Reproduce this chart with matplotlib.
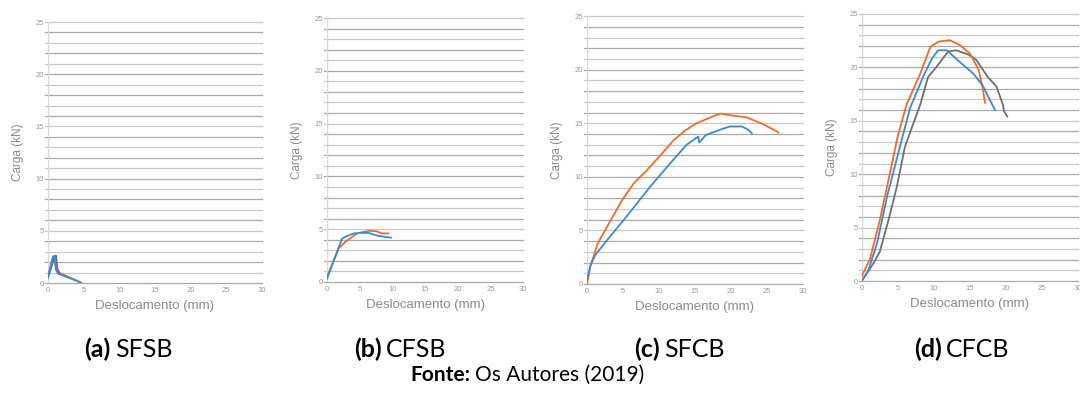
import matplotlib.pyplot as plt

# displacement (mm) / load (kN)
a_blue_x = [0, 0.35, 0.7, 0.9, 1.1, 1.4, 2.5, 3.5, 4.7]
a_blue_y = [0.5, 1.6, 2.55, 2.5, 1.3, 0.9, 0.6, 0.35, 0.0]
a_orange_x = [0, 0.5, 0.9, 1.1, 1.2, 1.5, 2.5, 3.5, 4.5]
a_orange_y = [0.6, 1.8, 2.6, 2.6, 1.5, 1.0, 0.7, 0.4, 0.1]
a_gray_x = [0, 0.55, 0.95, 1.15, 1.3, 1.6]
a_gray_y = [0.5, 1.7, 2.6, 2.6, 1.4, 1.0]

b_blue_x = [0, 1.2, 2.3, 3.05, 4.1, 5.3, 6.4, 7.6, 8.9, 9.8]
b_blue_y = [0.3, 2.3, 4.1, 4.35, 4.6, 4.65, 4.65, 4.4, 4.27, 4.2]
b_orange_x = [0, 1.8, 2.8, 3.7, 4.6, 5.6, 6.6, 7.6, 8.4, 9.4]
b_orange_y = [0.5, 3.2, 3.8, 4.2, 4.6, 4.75, 4.85, 4.8, 4.6, 4.6]

c_orange_x = [0, 0.46, 1.5, 3.0, 4.85, 6.5, 8.3, 10.2, 12, 13.6, 15.2, 17, 18.5, 19.4, 20.3, 22.2, 24.5, 26.6]
c_orange_y = [0, 1.6, 3.8, 5.6, 7.8, 9.4, 10.6, 12.0, 13.4, 14.3, 15.0, 15.5, 15.9, 15.8, 15.7, 15.55, 14.9, 14.15]
c_blue_x = [0, 0.5, 1.15, 2.8, 5.5, 8.8, 12, 13.85, 15.45, 15.6, 16.5, 18.5, 19.85, 21.5, 22.4, 22.9]
c_blue_y = [0.4, 1.8, 2.7, 4.1, 6.3, 9.1, 11.6, 13.0, 13.75, 13.2, 13.9, 14.4, 14.7, 14.7, 14.4, 14.05]

d_orange_x = [0, 1.15, 2.5, 3.9, 5.0, 6.2, 8.1, 9.5, 10.6, 12.2, 13.6, 15, 16.2, 16.8, 17.1]
d_orange_y = [0.45, 2.1, 5.7, 10.1, 13.6, 16.5, 19.4, 21.9, 22.4, 22.55, 22.1, 21.3, 19.8, 18.0, 16.7]
d_blue_x = [0, 0.9, 2.1, 3.5, 5.3, 6.7, 8.5, 9.7, 10.6, 11.8, 13.6, 15.5, 16.8, 17.3, 18.5]
d_blue_y = [0, 1.0, 3.5, 7.9, 12.6, 16.2, 19.1, 20.8, 21.6, 21.6, 20.5, 19.4, 18.3, 17.6, 16.0]
d_gray_x = [0, 1.6, 2.5, 3.7, 4.85, 6, 8.1, 9.2, 10.2, 12, 13.1, 14.8, 15.9, 17.5, 18.7, 19.6, 19.75, 20.2]
d_gray_y = [0, 1.65, 2.75, 5.7, 8.8, 12.6, 16.5, 19.1, 19.9, 21.5, 21.6, 21.2, 20.7, 19.1, 18.2, 16.5, 15.9, 15.4]

panel_labels = ['(a)', '(b)', '(c)', '(d)']
panel_names = ['SFSB', 'CFSB', 'SFCB', 'CFCB']

blue = '#3a8ad6'
orange = '#f26b2a'
gray = '#6f6f6f'

fig = plt.figure(figsize=(10.8, 3.94), dpi=100)
plt.rcParams['font.family'] = ['Liberation Sans', 'DejaVu Sans']

rects = [
    [0.0444, 0.2817, 0.198, 0.6624],
    [0.3028, 0.2843, 0.1815, 0.670],
    [0.5435, 0.2792, 0.200, 0.680],
    [0.7980, 0.2868, 0.200, 0.6777],
]
label_left = [0.078, 0.328, 0.587, 0.846]

series = [
    [(a_orange_x, a_orange_y, orange), (a_gray_x, a_gray_y, gray), (a_blue_x, a_blue_y, blue)],
    [(b_orange_x, b_orange_y, orange), (b_blue_x, b_blue_y, blue)],
    [(c_orange_x, c_orange_y, orange), (c_blue_x, c_blue_y, blue)],
    [(d_gray_x, d_gray_y, gray), (d_orange_x, d_orange_y, orange), (d_blue_x, d_blue_y, blue)],
]

renderer = fig.canvas.get_renderer()

def two_part_text(x, y, bold, normal, size):
    t = fig.text(x, y, bold, fontsize=size, fontweight='bold', family='Lato',
                 ha='left', va='center', color='black')
    bb = t.get_window_extent(renderer).transformed(fig.transFigure.inverted())
    fig.text(bb.x1 + 0.004, y, normal, fontsize=size, family='Lato',
             ha='left', va='center', color='black')

for rect, lines, lab, name, lx in zip(rects, series, panel_labels, panel_names, label_left):
    ax = fig.add_axes(rect)
    ax.set_xlim(0, 30)
    ax.set_ylim(0, 25)
    # horizontal grid at every unit
    for v in range(0, 26):
        c = '#a8a8a8' if v % 2 == 0 else '#c8c8c8'
        ax.axhline(v, color=c, lw=0.9, zorder=0, xmin=-0.015, clip_on=False)
    ax.axvline(0, color='#d8d8d8', lw=1.0, zorder=0)
    for x, y, col in lines:
        ax.plot(x, y, color=col, lw=1.3, zorder=3)
    for s in ax.spines.values():
        s.set_visible(False)
    ax.set_xticks(range(0, 31, 5))
    ax.set_yticks(range(0, 26, 5))
    ax.tick_params(axis='both', length=0, labelsize=5.5, labelcolor='#9a9a9a', pad=3)
    ax.set_xlabel('Deslocamento (mm)', fontsize=9.5, color='#8a8a8a', labelpad=4)
    ax.set_ylabel('Carga (kN)', fontsize=8.5, color='#8a8a8a', labelpad=8)
    two_part_text(lx, 0.114, lab, name, 18)

two_part_text(0.380, 0.048, 'Fonte:', 'Os Autores (2019)', 15)

fig.savefig('out.png', dpi=100)
